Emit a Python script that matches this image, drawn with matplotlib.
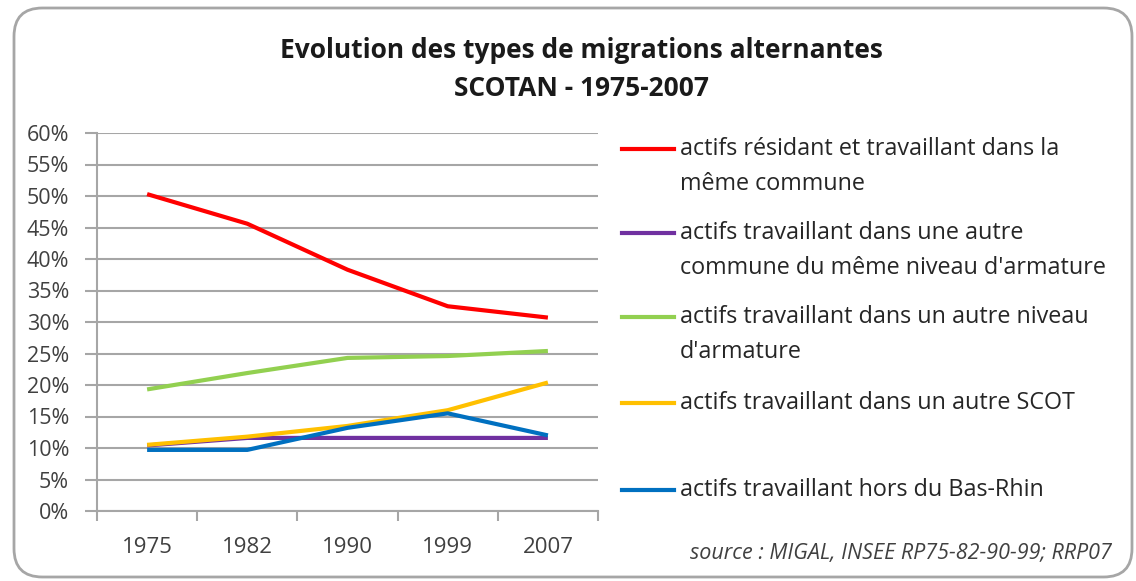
import matplotlib.pyplot as plt
from matplotlib.patches import FancyBboxPatch
from matplotlib.lines import Line2D

# données (en %)
annees = ['1975', '1982', '1990', '1999', '2007']
meme_commune = [50.3, 45.6, 38.3, 32.5, 30.7]
meme_niveau = [10.4, 11.6, 11.6, 11.6, 11.6]
autre_niveau = [19.3, 21.9, 24.3, 24.6, 25.4]
autre_scot = [10.5, 11.8, 13.5, 16.0, 20.4]
hors_bas_rhin = [9.7, 9.7, 13.2, 15.5, 12.0]

series = [meme_commune, meme_niveau, autre_niveau, autre_scot, hors_bas_rhin]
couleurs = ['#ff0000', '#7030a0', '#92d050', '#ffc000', '#0070c0']
libelles = ["actifs résidant et travaillant dans la\nmême commune",
            "actifs travaillant dans une autre\ncommune du même niveau d'armature",
            "actifs travaillant dans un autre niveau\nd'armature",
            "actifs travaillant dans un autre SCOT",
            "actifs travaillant hors du Bas-Rhin"]
graduations = list(range(0, 61, 5))

plt.rcParams['font.family'] = ['Open Sans', 'DejaVu Sans']
gris_texte = '#404040'
gris_ligne = '#a6a6a6'

W, H = 1136, 581
fig = plt.figure(figsize=(W / 100, H / 100), dpi=100)

def fx(px):
    return px / W

def fy(py):
    return 1 - py / H

# cadre arrondi
cadre = FancyBboxPatch((fx(14), fy(577)), fx(1118), fy(8) - fy(577),
                       boxstyle='round,pad=0,rounding_size=0.025',
                       transform=fig.transFigure, facecolor='white',
                       edgecolor=gris_ligne, linewidth=2, mutation_aspect=W / H,
                       zorder=-5)
fig.add_artist(cadre)

ax = fig.add_axes([fx(97), fy(511), fx(598) - fx(97), fy(133) - fy(511)])
ax.set_facecolor('none')

x = list(range(len(annees)))
for valeurs, couleur in zip(series, couleurs):
    ax.plot(x, valeurs, color=couleur, linewidth=3, solid_capstyle='butt', zorder=3)

ax.set_xlim(-0.5, len(annees) - 0.5)
ax.set_ylim(0, 60)
ax.set_yticks(graduations)
ax.set_yticklabels([f'{g}%' for g in graduations])
ax.yaxis.grid(True, color=gris_ligne, linewidth=1.5)
ax.set_axisbelow(True)

ax.set_xticks(x)
ax.set_xticklabels(annees)
ax.set_xticks([i - 0.5 for i in range(len(annees) + 1)], minor=True)
ax.tick_params(axis='x', which='major', length=0, pad=19, labelsize=16, labelcolor=gris_texte)
ax.tick_params(axis='x', which='minor', length=7, width=1.5, color=gris_ligne)
ax.tick_params(axis='y', length=9, width=1.5, color=gris_ligne, pad=11, labelsize=15.5,
               labelcolor=gris_texte)

for cote in ['top', 'right']:
    ax.spines[cote].set_visible(False)
for cote in ['left', 'bottom']:
    ax.spines[cote].set_color(gris_ligne)
    ax.spines[cote].set_linewidth(1.5)

# titre
fig.text(fx(581), fy(50), 'Evolution des types de migrations alternantes',
         ha='center', va='center', fontsize=19, fontweight='bold', color='#1a1a1a')
fig.text(fx(581), fy(88), 'SCOTAN - 1975-2007',
         ha='center', va='center', fontsize=19, fontweight='bold', color='#1a1a1a')

# légende
legende_y = [149, 233, 317, 403, 490]
for lib, couleur, ly in zip(libelles, couleurs, legende_y):
    fig.add_artist(Line2D([fx(622), fx(674)], [fy(ly), fy(ly)], color=couleur,
                          linewidth=3, transform=fig.transFigure))
    for k, ligne in enumerate(lib.split('\n')):
        fig.text(fx(680), fy(ly + 35 * k), ligne, ha='left', va='center',
                 fontsize=16.8, color='#262626')

# source
fig.text(fx(1112), fy(553), 'source : MIGAL, INSEE RP75-82-90-99; RRP07',
         ha='right', va='center', fontsize=15.5, style='italic', color=gris_texte)

fig.savefig('out.png', dpi=100)
